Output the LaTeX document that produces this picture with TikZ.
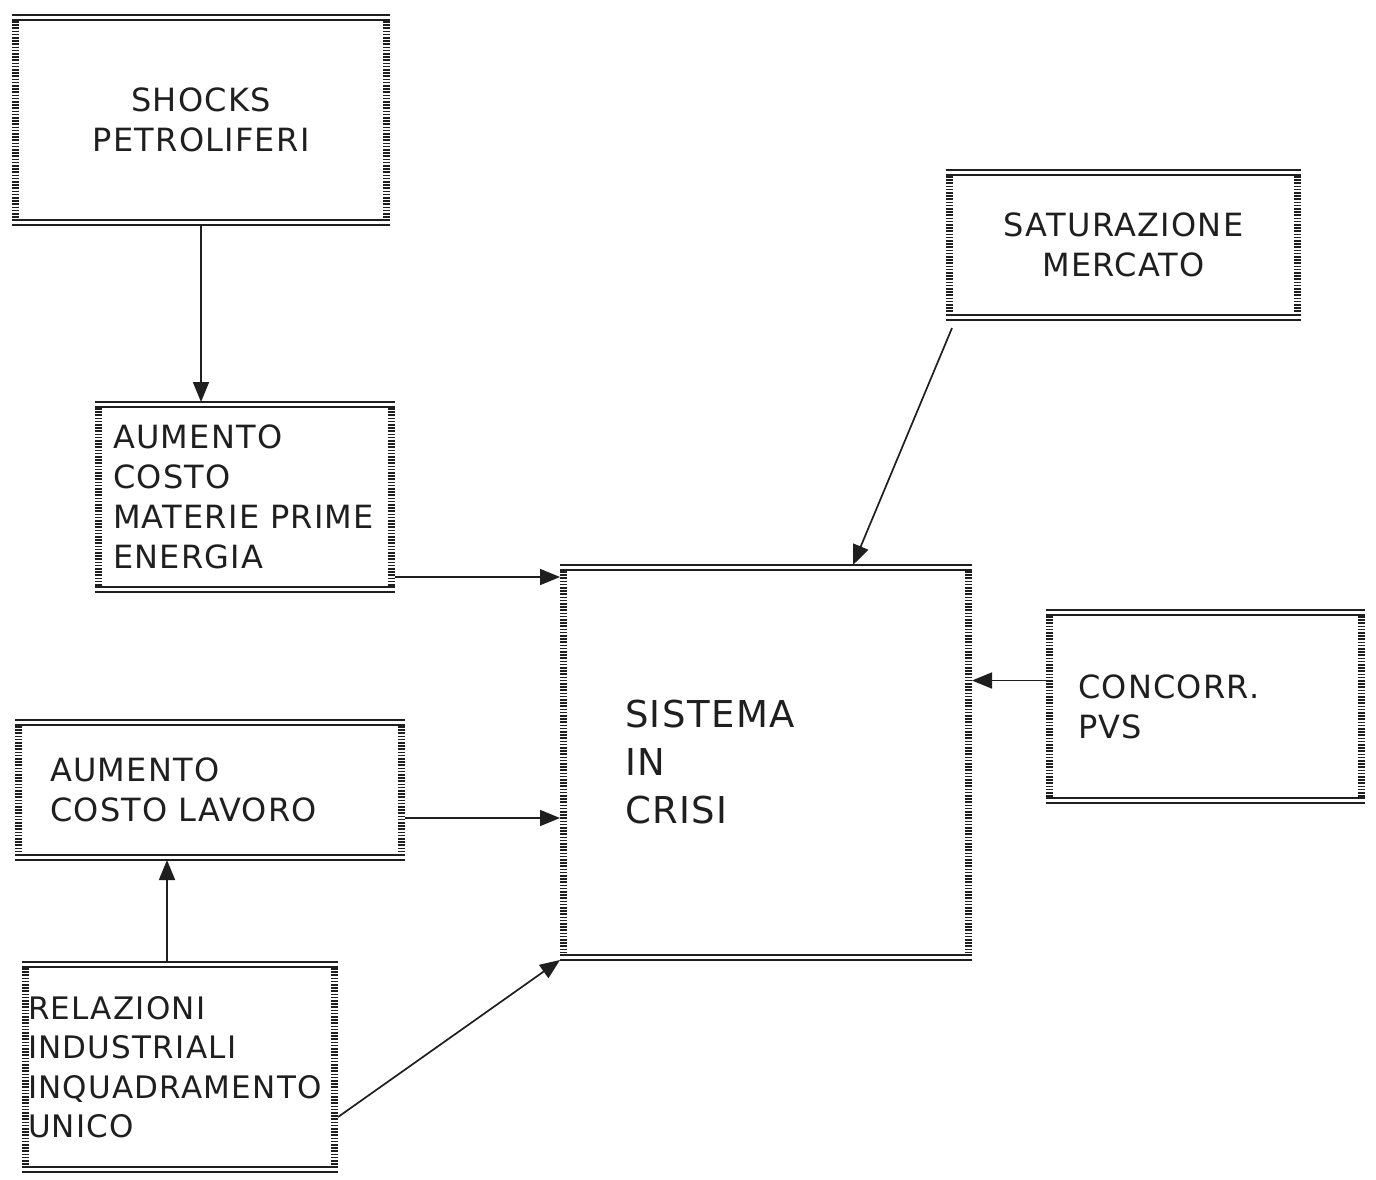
\documentclass[tikz,border=0pt]{standalone}
\usepackage{fontspec}
\setmainfont{DejaVu Sans}[LetterSpace=4]
\usetikzlibrary{arrows.meta}
\definecolor{ink}{gray}{0.12}
\begin{document}
\begin{tikzpicture}[x=1pt,y=-1pt,
  box/.style={draw=none, rectangle, inner ysep=0pt, outer sep=0pt, text=ink,
    font=\fontsize{32}{40}\selectfont},
  rule/.style={draw=ink, line width=1.8pt},
  hatch/.style={draw=ink, line width=7pt, dash pattern=on 1.6pt off 1.6pt},
  link/.style={draw=ink, line width=1.7pt, -{Triangle[length=20pt,width=16pt]}},
]
\useasboundingbox[fill=white] (0,0) rectangle (1376,1179);

% boxes
\node[box, align=center, minimum width=378pt, minimum height=210pt,
      inner xsep=20pt, text width=338pt] (shock) at (201,120)
  {SHOCKS\\PETROLIFERI};
\node[box, align=left, minimum width=300pt, minimum height=190pt,
      inner xsep=18pt, text width=264pt] (mater) at (245,497)
  {AUMENTO\\COSTO\\MATERIE~PRIME\\ENERGIA};
\node[box, align=left, minimum width=390pt, minimum height=140pt,
      inner xsep=35pt, text width=320pt] (lavoro) at (210,790)
  {AUMENTO\\COSTO~LAVORO};
\node[box, align=left, minimum width=316pt, minimum height=210pt,
      inner xsep=6pt, text width=304pt, font=\fontsize{31}{39.5}\selectfont] (relaz) at (180,1067)
  {RELAZIONI\\INDUSTRIALI\\INQUADRAMENTO\\UNICO};
\node[box, align=left, minimum width=412pt, minimum height=395pt,
      inner xsep=65pt, text width=282pt, font=\fontsize{37}{48}\selectfont] (sist) at (766,762.5)
  {SISTEMA\\IN\\CRISI};
\node[box, align=center, minimum width=355pt, minimum height=150pt,
      inner xsep=20pt, text width=315pt] (satur) at (1123.5,245)
  {SATURAZIONE\\MERCATO};
\node[box, align=left, minimum width=319pt, minimum height=193pt,
      inner xsep=32pt, text width=255pt] (conc) at (1205.5,706.5)
  {CONCORR.\\PVS};

% frames: double rules top and bottom, hatched strips at the sides
\foreach \n in {shock,mater,lavoro,relaz,sist,satur,conc} {
  \draw[rule] (\n.north west) -- (\n.north east);
  \draw[rule] ([yshift=-5pt]\n.north west) -- ([yshift=-5pt]\n.north east);
  \draw[rule] (\n.south west) -- (\n.south east);
  \draw[rule] ([yshift=5pt]\n.south west) -- ([yshift=5pt]\n.south east);
  \draw[hatch] ([xshift=3.5pt,yshift=-6pt]\n.north west) -- ([xshift=3.5pt,yshift=6pt]\n.south west);
  \draw[hatch] ([xshift=-3.5pt,yshift=-6pt]\n.north east) -- ([xshift=-3.5pt,yshift=6pt]\n.south east);
}

% connectors
\coordinate (m1) at ([yshift=15pt]mater.south east);
\coordinate (l1) at ([yshift=-28pt]lavoro.east);
\coordinate (r1) at ([xshift=-13pt]relaz.north);
\coordinate (r2) at ([yshift=-50pt]relaz.east);
\coordinate (s1) at ([xshift=6pt,yshift=-8pt]satur.south west);
\coordinate (s2) at ([xshift=87pt]sist.north);
\coordinate (c1) at ([yshift=26pt]conc.west);

\draw[link] (shock.south) -- (shock.south |- mater.north);
\draw[link] (m1) -- (m1 -| sist.west);
\draw[link] (l1) -- (l1 -| sist.west);
\draw[link] (r1) -- (r1 |- lavoro.south);
\draw[link] (r2) -- (sist.south west);
\draw[link] (s1) -- (s2);
\draw[link] (c1) -- (c1 -| sist.east);
\end{tikzpicture}
\end{document}
